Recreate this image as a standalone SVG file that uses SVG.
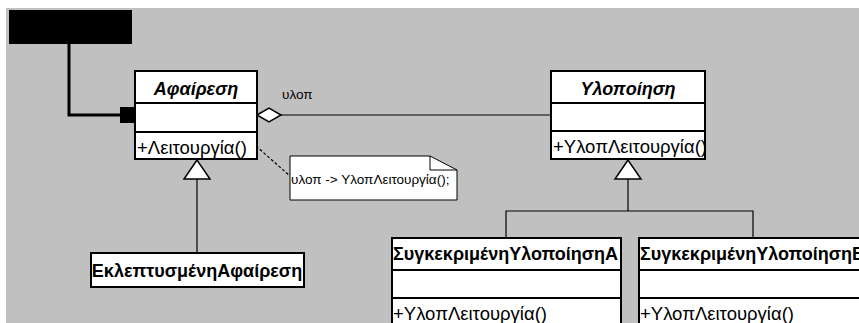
<svg xmlns="http://www.w3.org/2000/svg" width="859" height="323" viewBox="0 0 859 323">
<style>
.box{fill:#fff;stroke:#000;stroke-width:2}
.t{font-family:"Liberation Sans",Arial,sans-serif;font-size:18.5px;fill:#000}
.b{font-weight:bold;font-size:18px}
.i{font-style:italic}
.s{font-family:"Liberation Sans",Arial,sans-serif;font-size:13.5px;fill:#000}
.ln{fill:none;stroke:#000;stroke-width:1.2}
.dv{stroke:#000;stroke-width:2}
</style>
<rect x="0" y="0" width="859" height="323" fill="#fff"/>
<rect x="6" y="8" width="853" height="315" fill="#c0c0c0"/>
<rect x="9" y="10" width="123" height="34" fill="#000"/>
<g id="connectors">
<polyline points="69,44 69,115 120,115" fill="none" stroke="#000" stroke-width="3"/>
<rect x="120" y="107" width="16" height="16" fill="#000"/>
<line class="ln" x1="281" y1="115" x2="551" y2="115"/>
<polygon points="257,115 269,108 281,115 269,122" fill="#fff" stroke="#000" stroke-width="1.5"/>
<line x1="256" y1="146" x2="290" y2="176" stroke="#000" stroke-width="1.2" stroke-dasharray="3,2"/>
<line class="ln" x1="197" y1="179" x2="197" y2="253"/>
<polygon points="197,160 184,179 210,179" fill="#fff" stroke="#000" stroke-width="1.5"/>
<polyline class="ln" points="628,179 628,211"/>
<polyline class="ln" points="506,238 506,211 753,211 753,238"/>
<polygon points="628,160 615,179 641,179" fill="#fff" stroke="#000" stroke-width="1.5"/>
</g>
<g id="abstraction">
<rect class="box" x="135" y="71" width="122" height="88"/>
<line class="dv" x1="135" y1="103" x2="257" y2="103"/>
<line class="dv" x1="135" y1="132" x2="257" y2="132"/>
<text class="t b i" x="196" y="95" text-anchor="middle">Αφαίρεση</text>
<text class="t" x="137" y="154">+Λειτουργία()</text>
</g>
<text class="s" x="282" y="99">υλοπ</text>
<g id="note">
<polygon points="290,156 430,156 457,170 457,200 290,200" fill="#fff" stroke="#000" stroke-width="1"/>
<polyline points="430,156 430,170 457,170" fill="none" stroke="#000" stroke-width="1"/>
<text class="s" x="291" y="184">υλοπ -&gt; ΥλοπΛειτουργία();</text>
</g>
<g id="implementor">
<rect class="box" x="551" y="71" width="154" height="88"/>
<line class="dv" x1="551" y1="103" x2="705" y2="103"/>
<line class="dv" x1="551" y1="131" x2="705" y2="131"/>
<text class="t b i" x="628" y="95" text-anchor="middle">Υλοποίηση</text>
<text class="t" x="553" y="153">+ΥλοπΛειτουργία()</text>
</g>
<g id="refined">
<rect class="box" x="91" y="253" width="213" height="34"/>
<text class="t b" x="197" y="277" text-anchor="middle">ΕκλεπτυσμένηΑφαίρεση</text>
</g>
<g id="concreteA">
<rect class="box" x="392" y="238" width="229" height="100"/>
<line class="dv" x1="392" y1="270" x2="621" y2="270"/>
<line class="dv" x1="392" y1="298" x2="621" y2="298"/>
<text class="t b" x="393" y="260">ΣυγκεκριμένηΥλοποίησηA</text>
<text class="t" x="393" y="320">+ΥλοπΛειτουργία()</text>
</g>
<g id="concreteB">
<rect class="box" x="639" y="238" width="240" height="100"/>
<line class="dv" x1="639" y1="270" x2="879" y2="270"/>
<line class="dv" x1="639" y1="298" x2="879" y2="298"/>
<text class="t b" x="640" y="260">ΣυγκεκριμένηΥλοποίησηB</text>
<text class="t" x="640" y="320">+ΥλοπΛειτουργία()</text>
</g>
</svg>
